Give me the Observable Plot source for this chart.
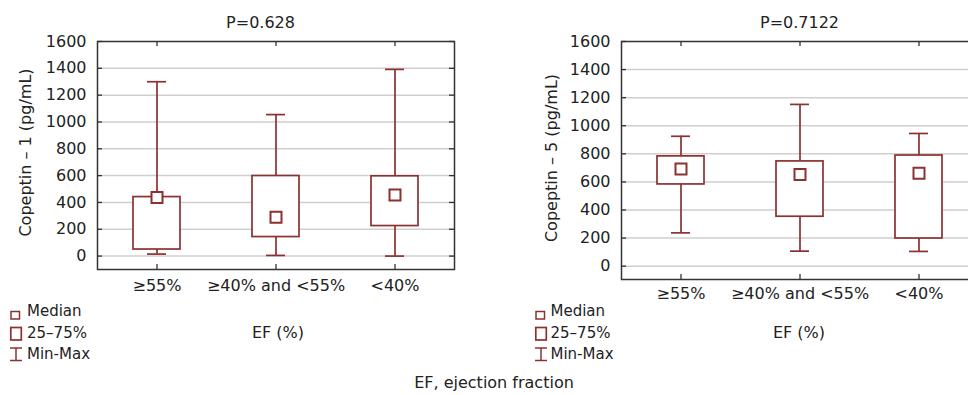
<!DOCTYPE html>
<html><head><meta charset="utf-8">
<script src="https://cdn.jsdelivr.net/npm/d3@7"></script>
<script src="https://cdn.jsdelivr.net/npm/@observablehq/plot@0.6"></script>
<style>
html,body{margin:0;padding:0;background:#fff;overflow:hidden;}
#wrap{position:relative;width:968px;height:395px;overflow:hidden;font-family:"DejaVu Sans",sans-serif;color:#222;}
.abs{position:absolute;white-space:nowrap;line-height:1;}
#wrap svg.plot, #wrap > svg{max-width:none !important;}
.center{transform:translateX(-50%);}
</style></head><body><div id="wrap"></div>
<script>
const categories = ["≥55%", "≥40% and <55%", "<40%"];
const yTicks = [0, 200, 400, 600, 800, 1000, 1200, 1400, 1600];
// Copeptin - 1
const c1Min = [15, 5, 0];
const c1Q1 = [49, 142, 224];
const c1Median = [437, 290, 455];
const c1Q3 = [440, 597, 595];
const c1Max = [1300, 1055, 1392];
// Copeptin - 5
const c5Min = [237, 107, 105];
const c5Q1 = [582, 352, 197];
const c5Median = [692, 652, 662];
const c5Q3 = [782, 746, 788];
const c5Max = [925, 1152, 945];
const pValues = ["P=0.628", "P=0.7122"];
const yLabels = ["Copeptin – 1 (pg/mL)", "Copeptin – 5 (pg/mL)"];
const xLabel = "EF (%)";
const legendItems = ["Median", "25–75%", "Min-Max"];
const caption = "EF, ejection fraction";

const COL = "#8c3030";
const FRAME = "#333";

function panel(s, o) {
  const data = categories.map((c, i) => ({cat: c, min: s.min[i], q1: s.q1[i], med: s.med[i], q3: s.q3[i], max: s.max[i]}));
  const pw = o.width - o.marginLeft - o.marginRight;
  const ph = o.height - o.marginTop - o.marginBottom;
  return Plot.plot({
    width: o.width, height: o.height,
    marginLeft: o.marginLeft, marginRight: o.marginRight, marginTop: o.marginTop, marginBottom: o.marginBottom,
    style: {fontFamily: '"DejaVu Sans", sans-serif', fontSize: "16px", color: "#222", background: "transparent", overflow: "visible"},
    x: {type: "band", domain: categories, padding: 0, axis: null},
    y: {domain: o.yDomain, axis: null},
    marks: [
      Plot.gridY(yTicks.slice(0, -1), {stroke: "#cfcfcf", strokeOpacity: 1, strokeWidth: 1.5}),
      Plot.ruleX(data, {x: "cat", y1: "min", y2: "max", stroke: COL, strokeWidth: 1.7}),
      Plot.tickY(data, {x: "cat", y: "min", inset: 50, stroke: COL, strokeWidth: 1.7}),
      Plot.tickY(data, {x: "cat", y: "max", inset: 50, stroke: COL, strokeWidth: 1.7}),
      Plot.barY(data, {x: "cat", y1: "q1", y2: "q3", insetLeft: 36, insetRight: 36, fill: "white", stroke: COL, strokeWidth: 1.7}),
      Plot.dot(data, {x: "cat", y: "med", symbol: "square", r: 6.2, fill: "white", stroke: COL, strokeWidth: 2}),
      Plot.frame({stroke: FRAME, strokeWidth: 1.5}),
      Plot.tickY(yTicks, {y: d => d, insetRight: pw - 5, stroke: FRAME, strokeWidth: 1.3}),
      Plot.tickY(yTicks, {y: d => d, insetLeft: pw - 5, stroke: FRAME, strokeWidth: 1.3}),
      Plot.tickX(categories, {x: d => d, insetBottom: ph - 5, stroke: FRAME, strokeWidth: 1.3}),
      Plot.tickX(categories, {x: d => d, insetTop: ph - 5, stroke: FRAME, strokeWidth: 1.3}),
      Plot.axisY(yTicks, {tickSize: 0, tickPadding: 11, fontSize: 16, label: null, tickFormat: d => String(d)}),
      Plot.axisX({tickSize: 0, tickPadding: o.xPad, fontSize: 16, label: null}),
      Plot.text([o.yLabel], {text: d => d, frameAnchor: "left", textAnchor: "middle", dx: o.labelDx, dy: o.labelDy, rotate: -90, fontSize: 16, fill: "#222"})
    ]
  });
}

const wrap = document.getElementById("wrap");

const p1 = panel({min: c1Min, q1: c1Q1, med: c1Median, q3: c1Q3, max: c1Max},
  {width: 480, height: 300, marginLeft: 97, marginRight: 26, marginTop: 41, marginBottom: 31,
   yDomain: [-100, 1600], xPad: 10.6, yLabel: yLabels[0], labelDx: -72, labelDy: -3});
p1.style.position = "absolute"; p1.style.left = "0px"; p1.style.top = "0px";
wrap.appendChild(p1);

const p2 = panel({min: c5Min, q1: c5Q1, med: c5Median, q3: c5Q3, max: c5Max},
  {width: 500, height: 310, marginLeft: 121, marginRight: 22, marginTop: 41, marginBottom: 31,
   yDomain: [-95, 1600], xPad: 8.6, yLabel: yLabels[1], labelDx: -70, labelDy: -2.5});
p2.style.position = "absolute"; p2.style.left = "500px"; p2.style.top = "0px";
wrap.appendChild(p2);

function addText(txt, x, y, size, center) {
  const d = document.createElement("div");
  d.className = "abs" + (center ? " center" : "");
  d.style.left = x + "px"; d.style.top = y + "px"; d.style.fontSize = size + "px";
  d.textContent = txt;
  wrap.appendChild(d);
  return d;
}
addText(pValues[0], 260.5, 14.5, 16, true);
addText(pValues[1], 799.5, 14.5, 16, true);
addText(xLabel, 278, 324.5, 16, true);
addText(xLabel, 799, 324.5, 16, true);
addText(caption, 494, 374.5, 16, true);

function addLegend(x0, tx) {
  const rows = [304, 325.6, 347.3];
  legendItems.forEach((t, i) => addText(t, tx, rows[i], 15, false));
  const ns = "http://www.w3.org/2000/svg";
  const svg = document.createElementNS(ns, "svg");
  svg.setAttribute("width", 16); svg.setAttribute("height", 60);
  svg.style.position = "absolute"; svg.style.left = (x0 - 2) + "px"; svg.style.top = "305px";
  svg.innerHTML =
    `<rect x="3" y="6.5" width="8.5" height="7.5" fill="white" stroke="${COL}" stroke-width="1.5"/>` +
    `<rect x="2.8" y="22.5" width="10.5" height="12.5" fill="white" stroke="${COL}" stroke-width="1.7"/>` +
    `<line x1="2" x2="14" y1="43" y2="43" stroke="${COL}" stroke-width="1.5"/>` +
    `<line x1="2" x2="14" y1="55.5" y2="55.5" stroke="${COL}" stroke-width="1.5"/>` +
    `<line x1="8" x2="8" y1="43" y2="55.5" stroke="${COL}" stroke-width="1.5"/>`;
  wrap.appendChild(svg);
}
addLegend(10, 27);
addLegend(535, 550.5);
</script></body></html>
